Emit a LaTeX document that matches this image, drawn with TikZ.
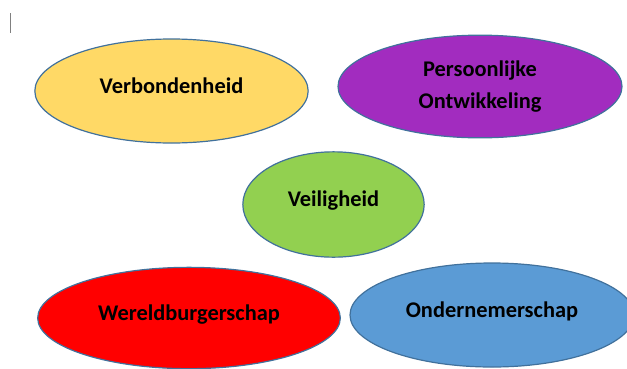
\documentclass[tikz,border=0pt]{standalone}
\usepackage{fontspec}
\setmainfont{Carlito}
\usepackage{tikz}
\usetikzlibrary{shapes,positioning}
\definecolor{rim}{HTML}{41719C}
\definecolor{goldfill}{HTML}{FFD966}
\definecolor{purplefill}{HTML}{A22CBF}
\definecolor{greenfill}{HTML}{92D050}
\definecolor{redfill}{HTML}{FF0000}
\definecolor{bluefill}{HTML}{5B9BD5}
\tikzstyle{bubble}=[draw=rim, line width=0.9pt, ellipse, inner sep=0pt, align=center, font=\fontsize{16.8}{24.5}\selectfont\bfseries]
\tikzstyle{raised}=[text height=12pt, text depth=9pt]

\begin{document}
\begin{tikzpicture}[x=0.75pt, y=-0.75pt]
      \useasboundingbox (0,0) rectangle (627,368);
      \draw[gray, line width=0.75pt] (10.5,13) -- (10.5,33);
      \node[bubble, raised, fill=goldfill, minimum width=205pt, minimum height=78pt] (verbonden) at (171.5,91) {Verbondenheid};
      \node[bubble, fill=purplefill, minimum width=213pt, minimum height=77pt] (persoonlijk) at (480,86.5) {Persoonlijke\\Ontwikkeling};
      \node[bubble, raised, fill=greenfill, minimum width=136pt, minimum height=79pt] (veilig) at (333.5,204.5) {Veiligheid};
      \node[bubble, raised, fill=redfill, minimum width=227pt, minimum height=76pt] (wereld) at (189,318) {Wereldburgerschap};
      \node[bubble, raised, fill=bluefill, minimum width=213pt, minimum height=78pt] (onderneem) at (492,315) {Ondernemerschap};
    \end{tikzpicture}
\end{document}
